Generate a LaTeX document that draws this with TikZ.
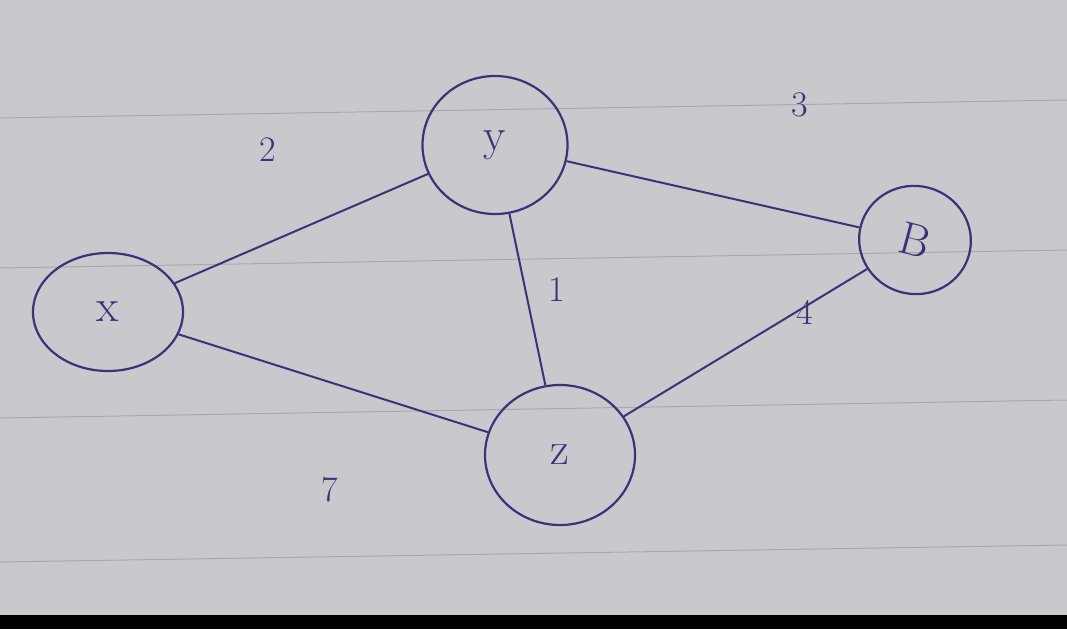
\documentclass[tikz,border=0pt]{standalone}
\usepackage{tikz}
\usetikzlibrary{shapes.geometric}
\definecolor{ink}{HTML}{3B3278}
\definecolor{paper}{HTML}{C9C9CD}
\definecolor{rule}{HTML}{A9A8AE}
\begin{document}
\begin{tikzpicture}[x=1pt,y=-1pt,
  vtx/.style={ellipse,draw=ink,line width=2.2pt,text=ink,inner sep=0pt,font=\fontsize{46}{50}\selectfont},
  edge/.style={draw=ink,line width=2pt},
  wlabel/.style={text=ink,font=\fontsize{36}{40}\selectfont}]
\useasboundingbox (0,0) rectangle (1067,629);
\fill[paper] (0,0) rectangle (1067,629);
\fill[black] (0,615) rectangle (1067,629);
% ruled lines of the paper
\draw[rule,line width=1pt] (0,118) -- (1067,100);
\draw[rule,line width=1pt] (0,268) -- (1067,250);
\draw[rule,line width=1pt] (0,418) -- (1067,400);
\draw[rule,line width=1pt] (0,562) -- (1067,545);
% vertices
\node[vtx,minimum width=150pt,minimum height=118pt] (x) at (108,312) {x};
\node[vtx,minimum width=145pt,minimum height=138pt] (y) at (495,145) {y};
\node[vtx,minimum width=112pt,minimum height=108pt,rotate=-15] (B) at (915,240) {B};
\node[vtx,minimum width=150pt,minimum height=140pt] (z) at (560,455) {z};
% edges
\draw[edge] (x) -- (y);
\draw[edge] (y) -- (B);
\draw[edge] (y) -- (z);
\draw[edge] (z) -- (B);
\draw[edge] (x) -- (z);
% weights
\node[wlabel] (w2) at (268,150) {2};
\node[wlabel] (w3) at (800,105) {3};
\node[wlabel] (w1) at (557,290) {1};
\node[wlabel] (w4) at (805,312) {4};
\node[wlabel] (w7) at (330,490) {7};
\end{tikzpicture}
\end{document}
